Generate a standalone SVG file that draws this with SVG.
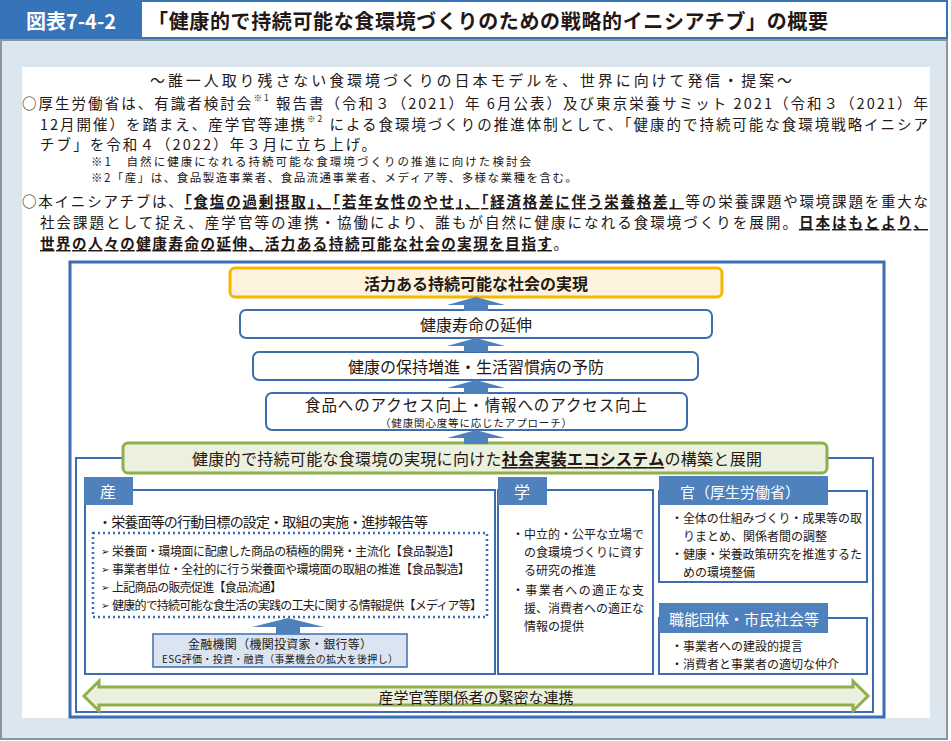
<svg xmlns="http://www.w3.org/2000/svg" width="951" height="741" viewBox="0 0 951 741">
<defs>
<style>
text{font-family:"Noto Sans CJK JP","Noto Sans",sans-serif;fill:#231815;dominant-baseline:central}
.b{font-weight:700}
.u{text-decoration:underline}
.w{fill:#fff}
.m{text-anchor:middle}
.box{fill:#fff;stroke:#3d6db0;stroke-width:2}
.pbox{fill:#fff;stroke:#3d6db0;stroke-width:2}
.tab{fill:#4f81bd}
.arr{fill:#4f81bd}
.green{fill:#ebf1de;stroke:#8db04b;stroke-width:3}
</style>
<path id="upA" d="M0,0 L29,8 L12,8 L12,14 L-12,14 L-12,8 L-29,8 Z"/>
</defs>

<!-- background -->
<rect x="0" y="0" width="951" height="741" fill="#fff"/>
<rect x="1" y="40" width="946" height="699" fill="#dce6ee" stroke="#8c949c" stroke-width="2"/>

<!-- header -->
<g id="header">
<rect x="1" y="1" width="946" height="37" fill="#fff" stroke="#3574b8" stroke-width="2"/>
<rect x="1" y="1" width="141" height="37" fill="#3574b8"/>
<text class="b w m" x="71" y="20" font-size="20">図表7-4-2</text>
<text class="b" x="148" y="20" font-size="20" textLength="680">「健康的で持続可能な食環境づくりのための戦略的イニシアチブ」の概要</text>
</g>

<!-- intro panel -->
<rect x="22" y="67" width="908" height="651" fill="#fff"/>
<g id="intro">
<text class="m" x="471" y="79" font-size="15" textLength="642">～誰一人取り残さない食環境づくりの日本モデルを、世界に向けて発信・提案～</text>
<text x="22" y="102" font-size="14.5" textLength="906">○厚生労働省は、有識者検討会<tspan font-size="8.5" dy="-5">※1</tspan><tspan dy="5"> 報告書（令和３（2021）年 6月公表）及び東京栄養サミット 2021（令和３（2021）年</tspan></text>
<text x="40" y="123" font-size="14.5" textLength="888">12月開催）を踏まえ、産学官等連携<tspan font-size="8.5" dy="-5">※2</tspan><tspan dy="5"> による食環境づくりの推進体制として、「健康的で持続可能な食環境戦略イニシア</tspan></text>
<text x="40" y="143.5" font-size="14.5" textLength="336">チブ」を令和４（2022）年３月に立ち上げ。</text>
<text x="91" y="160.5" font-size="11.5" textLength="440">※1　自然に健康になれる持続可能な食環境づくりの推進に向けた検討会</text>
<text x="91" y="176.5" font-size="11.5" textLength="486">※2「産」は、食品製造事業者、食品流通事業者、メディア等、多様な業種を含む。</text>
<text x="22" y="200" font-size="14.5" textLength="906">○本イニシアチブは、<tspan class="b u">「食塩の過剰摂取」、「若年女性のやせ」、「経済格差に伴う栄養格差」</tspan>等の栄養課題や環境課題を重大な</text>
<text x="40" y="221" font-size="14.5" textLength="888">社会課題として捉え、産学官等の連携・協働により、誰もが自然に健康になれる食環境づくりを展開。<tspan class="b u">日本はもとより、</tspan></text>
<text x="40" y="242" font-size="14.5" textLength="528"><tspan class="b u">世界の人々の健康寿命の延伸、活力ある持続可能な社会の実現を目指す</tspan>。</text>
</g>

<!-- frames -->
<g id="frame">
<rect x="70" y="262" width="814" height="455" fill="#fff" stroke="#3d6db0" stroke-width="3"/>
<rect x="76" y="458" width="797" height="254" fill="none" stroke="#3d6db0" stroke-width="2"/>
</g>

<!-- pyramid -->
<g id="goal">
<rect x="230" y="268" width="492" height="29" rx="5" fill="#fdf3dc" stroke="#f5b800" stroke-width="3"/>
<text class="b m" x="476" y="283" font-size="16">活力ある持続可能な社会の実現</text>
</g>
<g id="life">
<rect class="pbox" x="240" y="310" width="472" height="28" rx="6"/>
<text class="m" x="476" y="324" font-size="16">健康寿命の延伸</text>
</g>
<g id="prevent">
<rect class="pbox" x="253" y="352" width="445" height="28" rx="6"/>
<text class="m" x="476" y="366" font-size="16">健康の保持増進・生活習慣病の予防</text>
</g>
<g id="access">
<rect class="pbox" x="266" y="393" width="421" height="37" rx="6"/>
<text class="m" x="476" y="404" font-size="15.5" textLength="342">食品へのアクセス向上・情報へのアクセス向上</text>
<text class="m" x="476" y="422" font-size="10.5" textLength="192">（健康関心度等に応じたアプローチ）</text>
</g>
<g id="ecosystem">
<rect class="green" x="123" y="443" width="704" height="30" rx="5"/>
<text x="192" y="458" font-size="16" textLength="570">健康的で持続可能な食環境の実現に向けた<tspan class="b u">社会実装エコシステム</tspan>の構築と展開</text>
</g>

<!-- 産 -->
<g id="industry">
<rect class="box" x="85" y="490" width="410" height="184"/>
<rect class="tab" x="84" y="477" width="49" height="28"/>
<text class="w m" x="108" y="491" font-size="16">産</text>
<text x="98" y="521" font-size="14" textLength="330">・栄養面等の行動目標の設定・取組の実施・進捗報告等</text>
<rect x="93" y="533" width="394" height="84" fill="none" stroke="#3d6db0" stroke-width="2.5" stroke-dasharray="2 3"/>
<text x="101" y="550" font-size="10">➢</text>
<text x="112" y="550" font-size="12" textLength="348">栄養面・環境面に配慮した商品の積極的開発・主流化【食品製造】</text>
<text x="101" y="568" font-size="10">➢</text>
<text x="112" y="568" font-size="12" textLength="358">事業者単位・全社的に行う栄養面や環境面の取組の推進【食品製造】</text>
<text x="101" y="586" font-size="10">➢</text>
<text x="112" y="586" font-size="12" textLength="170">上記商品の販売促進【食品流通】</text>
<text x="101" y="604" font-size="10">➢</text>
<text x="112" y="604" font-size="12" textLength="370">健康的で持続可能な食生活の実践の工夫に関する情報提供【メディア等】</text>
</g>
<g id="finance">
<rect x="153" y="634" width="254" height="33" fill="#dbe5f1" stroke="#3d6db0" stroke-width="1.5"/>
<text class="m" x="280" y="643" font-size="12" textLength="184">金融機関（機関投資家・銀行等）</text>
<text class="m" x="280" y="658.5" font-size="10" textLength="236">ESG評価・投資・融資（事業機会の拡大を後押し）</text>
</g>

<!-- 学 -->
<g id="academia">
<rect class="box" x="498" y="490" width="155" height="184"/>
<rect class="tab" x="498" y="477" width="49" height="28"/>
<text class="w m" x="522" y="491" font-size="16">学</text>
<text x="512" y="533" font-size="12" textLength="132">・中立的・公平な立場で</text>
<text x="524" y="551" font-size="12" textLength="120">の食環境づくりに資す</text>
<text x="524" y="569" font-size="12">る研究の推進</text>
<text x="512" y="589" font-size="12" textLength="132">・事業者への適正な支</text>
<text x="524" y="607" font-size="12" textLength="120">援、消費者への適正な</text>
<text x="524" y="625" font-size="12">情報の提供</text>
</g>

<!-- 官 -->
<g id="government">
<rect class="box" x="659" y="491" width="208" height="91"/>
<rect class="tab" x="659" y="476" width="169" height="29"/>
<text class="w m" x="740" y="491" font-size="15">官（厚生労働省）</text>
<text x="671" y="517" font-size="12" textLength="191">・全体の仕組みづくり・成果等の取</text>
<text x="683" y="535" font-size="12">りまとめ、関係者間の調整</text>
<text x="671" y="553" font-size="12" textLength="191">・健康・栄養政策研究を推進するた</text>
<text x="683" y="571" font-size="12">めの環境整備</text>
</g>

<!-- 職能団体 -->
<g id="civil">
<rect class="box" x="659" y="618" width="208" height="56"/>
<rect class="tab" x="659" y="603" width="169" height="30"/>
<text class="w m" x="744" y="618" font-size="15">職能団体・市民社会等</text>
<text x="671" y="645" font-size="12">・事業者への建設的提言</text>
<text x="671" y="663" font-size="12">・消費者と事業者の適切な仲介</text>
</g>

<!-- bottom -->
<g id="cooperation">
<path class="green" stroke-width="2.5" d="M84,696 L99,681 L99,687 L853,687 L853,681 L868,696 L853,711 L853,705 L99,705 L99,711 Z"/>
<text class="m" x="476" y="696" font-size="15">産学官等関係者の緊密な連携</text>
</g>

<!-- connectors -->
<g id="connectors">
<use href="#upA" x="476" y="297" class="arr"/>
<use href="#upA" x="476" y="338" class="arr"/>
<use href="#upA" x="476" y="380" class="arr"/>
<use href="#upA" x="476" y="430" class="arr"/>
<path class="arr" d="M288,618 L324,627 L300,627 L300,634 L276,634 L276,627 L252,627 Z"/>
</g>
</svg>
